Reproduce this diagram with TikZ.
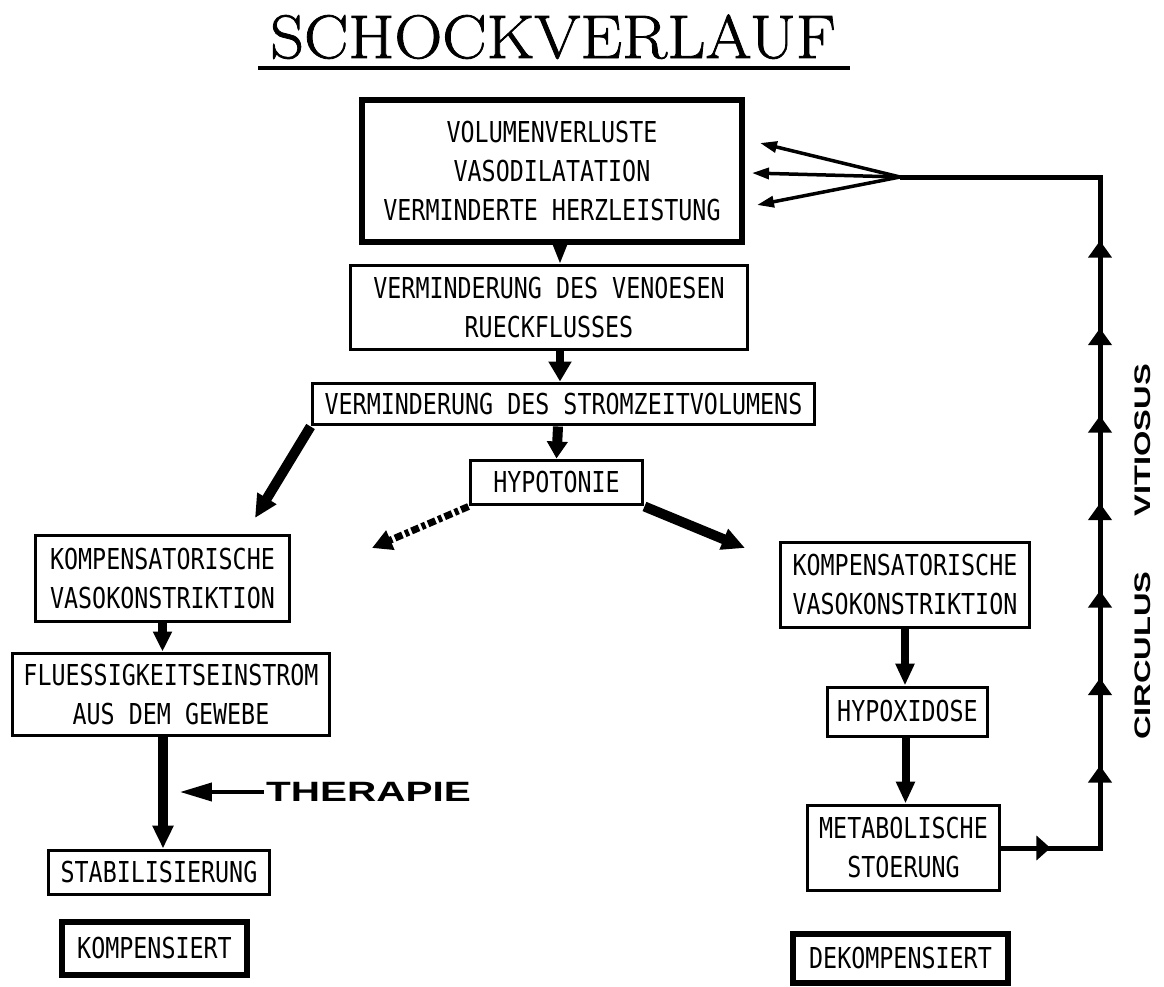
\documentclass[tikz,border=0pt]{standalone}
\usepackage{fontspec}
\usetikzlibrary{arrows.meta,calc,decorations.markings}

\newfontfamily\boxfont[FakeStretch=0.81]{DejaVu Sans Mono}
\newfontfamily\widefont[FakeStretch=1.45]{Liberation Sans}
\newfontfamily\titlefont[FakeBold=1.3,FakeStretch=1.08]{Latin Modern Roman}

\tikzset{
  box/.style={draw, line width=0.06cm, inner sep=0pt, align=center,
    font=\boxfont\fontsize{16.4}{22.2}\selectfont},
  thickbox/.style={box, line width=0.12cm},
  loopline/.style={line width=0.1cm, line join=miter,
    decoration={markings,
      mark=at position 0.98cm with {\arrow{Triangle[length=0.28cm,width=0.48cm]}},
      mark=between positions 3.62cm and 14.2cm step 1.75cm with {\arrow{Triangle[length=0.34cm,width=0.46cm]}}},
    postaction={decorate}},
  forkarrow/.style={line width=0.07cm, -{Triangle[length=0.34cm,width=0.22cm]}},
}

\begin{document}
\begin{tikzpicture}[x=0.02cm, y=-0.02cm]

    \useasboundingbox (0,0) rectangle (1164,987);

    % Title
    \node (title) [anchor=base, inner sep=0pt] at (553,58) {\titlefont\fontsize{35}{40}\selectfont SCHOCKVERLAUF};
    \draw[line width=0.08cm] (258,68) -- (850,68);

    % Middle column
    \node[thickbox, minimum width=7.6cm, minimum height=2.84cm] (vol) at (552,171)
        {VOLUMENVERLUSTE\\VASODILATATION\\VERMINDERTE HERZLEISTUNG};
    \node[box, minimum width=7.96cm, minimum height=1.7cm] (ven) at (549,307.5)
        {VERMINDERUNG DES VENOESEN\\RUECKFLUSSES};
    \node[box, minimum width=10.06cm, minimum height=0.84cm] (strom) at (563.5,404)
        {VERMINDERUNG DES STROMZEITVOLUMENS};
    \node[box, minimum width=3.46cm, minimum height=0.9cm] (hypo) at (556.5,482.5)
        {HYPOTONIE};

    % Left column
    \node[box, minimum width=5.1cm, minimum height=1.74cm] (kompL) at (162.5,578.5)
        {KOMPENSATORISCHE\\VASOKONSTRIKTION};
    \node[box, minimum width=6.36cm, minimum height=1.66cm] (fluess) at (171,694.5)
        {FLUESSIGKEITSEINSTROM\\AUS DEM GEWEBE};
    \node[box, minimum width=4.44cm, minimum height=0.88cm] (stab) at (159,872)
        {STABILISIERUNG};
    \node[thickbox, minimum width=3.7cm, minimum height=1.06cm] (kompens) at (154.5,948.5)
        {KOMPENSIERT};

    % Right column
    \node[box, minimum width=5.0cm, minimum height=1.72cm] (kompR) at (905,585)
        {KOMPENSATORISCHE\\VASOKONSTRIKTION};
    \node[box, minimum width=3.22cm, minimum height=0.98cm] (hypox) at (907.5,711.5)
        {HYPOXIDOSE};
    \node[box, minimum width=3.86cm, minimum height=1.72cm] (metab) at (903.5,848)
        {METABOLISCHE\\STOERUNG};
    \node[thickbox, minimum width=4.3cm, minimum height=0.98cm] (dekomp) at (900.5,958.5)
        {DEKOMPENSIERT};

    % Therapie
    \node (ther) [anchor=west, inner sep=1pt] at (264,792)
        {\widefont\bfseries\fontsize{15.9}{18}\selectfont THERAPIE};
    \coordinate (therTip) at (180,792);

    % Circulus vitiosus
    \node (circ) [rotate=90, inner sep=0pt] at (1143,552)
        {\widefont\bfseries\fontsize{12.8}{14}\selectfont CIRCULUS\hspace{1.1cm}VITIOSUS};

    % Free arrow ends
    \coordinate (leftTip) at (255,518);
    \coordinate (dashTip) at (372,548);
    \coordinate (rightTip) at (745,548);
    \coordinate (loopB) at (1100,848);
    \coordinate (loopT) at (1100,177);
    \coordinate (fork) at (900,177);
    \coordinate (tipA) at (760,143);
    \coordinate (tipB) at (752,173);
    \coordinate (tipC) at (757,205);

    % Arrows down the middle
    \draw[line width=0.08cm, -{Triangle[length=0.44cm,width=0.32cm]}]
        ($(vol.south)+(8,0)$) -- ($(ven.north)+(11,0)$);
    \draw[line width=0.16cm, -{Triangle[length=0.4cm,width=0.44cm]}]
        ($(ven.south)+(11,0)$) -- ($(strom.north)+(-3.5,0)$);
    \draw[line width=0.2cm, -{Triangle[length=0.34cm,width=0.4cm]}]
        ($(strom.south)+(-5.5,0)$) -- (hypo.north);

    % Branches
    \draw[line width=0.2cm, -{Triangle[length=0.46cm,width=0.42cm]}] (strom.south west) -- (leftTip);
    \draw[line width=0.14cm, dash pattern=on 0.16cm off 0.06cm on 0.08cm off 0.06cm,
        -{Triangle[length=0.4cm,width=0.4cm]}] (hypo.south west) -- (dashTip);
    \draw[line width=0.2cm, -{Triangle[length=0.46cm,width=0.42cm]}] (hypo.south east) -- (rightTip);

    % Left chain
    \draw[line width=0.18cm, -{Triangle[length=0.4cm,width=0.36cm]}]
        (kompL.south) -- (kompL.south |- fluess.north);
    \draw[line width=0.2cm, -{Triangle[length=0.46cm,width=0.4cm]}]
        ($(stab.north |- fluess.south)+(4,0)$) -- ($(stab.north)+(4,0)$);
    \draw[line width=0.08cm, -{Triangle[length=0.64cm,width=0.36cm]}] (ther.west) -- (therTip);

    % Right chain
    \draw[line width=0.16cm, -{Triangle[length=0.44cm,width=0.36cm]}]
        (kompR.south) -- (kompR.south |- hypox.north);
    \draw[line width=0.16cm, -{Triangle[length=0.44cm,width=0.36cm]}]
        ($(hypox.south)+(-2,0)$) -- ($(hypox.south |- metab.north)+(-2,0)$);

    % Feedback loop
    \draw[loopline] (metab.east) -- (loopB) -- (loopT) -- (fork);
    \draw[forkarrow] (fork) -- (tipA);
    \draw[forkarrow] (fork) -- (tipB);
    \draw[forkarrow] (fork) -- (tipC);

\end{tikzpicture}
\end{document}
